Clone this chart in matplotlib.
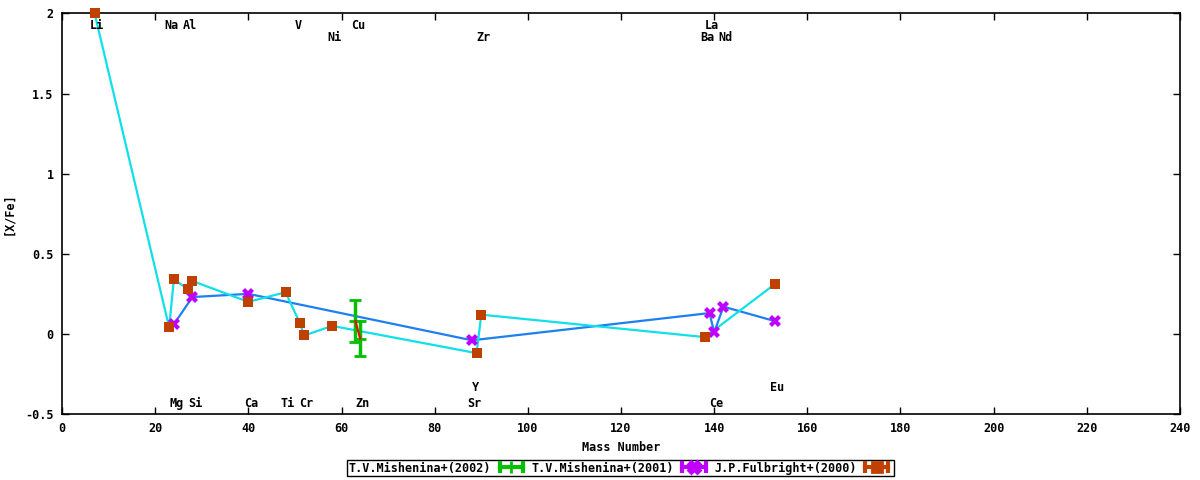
import matplotlib
matplotlib.use('Agg')
import matplotlib.pyplot as plt
from matplotlib.lines import Line2D
from matplotlib.legend_handler import HandlerLine2D, HandlerTuple

# ---------------------------------------------------------------- data
mish02_mass = [63, 64]
mish02_xfe = [0.08, -0.03]
mish02_err = [0.13, 0.11]

mish01_mass = [24, 28, 40, 88, 139, 140, 142, 153]
mish01_xfe = [0.06, 0.23, 0.25, -0.04, 0.13, 0.01, 0.17, 0.08]

fulb_mass = [7, 23, 24, 27, 28, 40, 48, 51, 52, 58, 89, 90, 138, 153]
fulb_xfe = [2.00, 0.04, 0.34, 0.28, 0.33, 0.20, 0.26, 0.07, -0.01, 0.05,
            -0.12, 0.12, -0.02, 0.31]

# element labels: name, mass number, row
top1 = [('Li', 7), ('Na', 23), ('Al', 27), ('V', 51), ('Cu', 63), ('La', 139)]
top2 = [('Ni', 58), ('Zr', 90), ('Ba', 138), ('Nd', 142)]
bot1 = [('Y', 89), ('Eu', 153)]
bot2 = [('Mg', 24), ('Si', 28), ('Ca', 40), ('Ti', 48), ('Cr', 52),
        ('Zn', 64), ('Sr', 88), ('Ce', 140)]

x_ticks = list(range(0, 241, 20))
y_ticks = [-0.5, 0, 0.5, 1, 1.5, 2]
y_tick_labels = ['-0.5', '0', '0.5', '1', '1.5', '2']

# ---------------------------------------------------------------- style
FONT = {'family': 'DejaVu Sans Mono', 'weight': 'bold', 'size': 8.5}
c_green = '#00C000'
c_red = '#FF0000'
c_purple = '#BF00FF'
c_blue = '#1E7FF0'
c_orange = '#C04000'
c_cyan = '#10E0E8'

fig = plt.figure(figsize=(12, 4.8), dpi=100)
ax = fig.add_axes([0.0517, 0.1375, 0.9316, 0.8344])

# T.V.Mishenina+(2002)
ax.plot(mish02_mass, mish02_xfe, color=c_red, lw=1.5, zorder=4)
ax.errorbar(mish02_mass, mish02_xfe, yerr=mish02_err, fmt='+', color=c_green,
            ms=9, mew=2, elinewidth=2.5, capsize=4, capthick=2.5, zorder=3)

# T.V.Mishenina+(2001)
ax.plot(mish01_mass, mish01_xfe, color=c_blue, lw=1.6, zorder=2)
ax.plot(mish01_mass, mish01_xfe, ls='none', marker='X', ms=8.5, mew=0,
        color=c_purple, zorder=5)

# J.P.Fulbright+(2000)
ax.plot(fulb_mass, fulb_xfe, color=c_cyan, lw=1.6, zorder=2)
ax.plot(fulb_mass, fulb_xfe, ls='none', marker='s', ms=7.5, mew=0,
        color=c_orange, zorder=6, clip_on=False)

# ---------------------------------------------------------------- labels
for row, yy in ((top1, 1.925), (top2, 1.85), (bot1, -0.334), (bot2, -0.434)):
    for name, m in row:
        ax.text(m - 1, yy, name, ha='left', va='center', fontdict=FONT, zorder=7)

ax.set_xlim(0, 240)
ax.set_ylim(-0.5, 2)
ax.set_xticks(x_ticks)
ax.set_xticklabels([str(t) for t in x_ticks], fontdict=FONT)
ax.set_yticks(y_ticks)
ax.set_yticklabels(y_tick_labels, fontdict=FONT)
ax.tick_params(direction='in', length=5, width=1, top=True, right=True, pad=6)
for s in ax.spines.values():
    s.set_linewidth(1.2)
ax.set_xlabel('Mass Number', fontdict=FONT, labelpad=4)
ax.set_ylabel('[X/Fe]', fontdict=FONT, labelpad=7)


# ---------------------------------------------------------------- key
def key_handle(color, marker, ms):
    bar = Line2D([], [], color=color, lw=3, marker='|', ms=8, mew=3)
    pt = Line2D([], [], color=color, ls='none', marker=marker, ms=ms, mew=2)
    return (bar, pt)


h02 = key_handle(c_green, '+', 8)
h01 = key_handle(c_purple, 'X', 8)
hfb = key_handle(c_orange, 's', 7)
hmap = {tuple: HandlerTuple(ndivide=1)}
for h in (h02, h01, hfb):
    hmap[h[1]] = HandlerLine2D(numpoints=1)

leg = fig.legend([h02, h01, hfb],
                 ['T.V.Mishenina+(2002)', 'T.V.Mishenina+(2001)', 'J.P.Fulbright+(2000)'],
                 handler_map=hmap, numpoints=2, markerfirst=False, ncol=3,
                 loc='center', bbox_to_anchor=(0.517, 0.025),
                 prop={'family': 'DejaVu Sans Mono', 'weight': 'bold', 'size': 8.5},
                 frameon=True, fancybox=False, edgecolor='black', framealpha=1,
                 borderpad=0.15, handlelength=2.6, handletextpad=0.4,
                 columnspacing=0.4, borderaxespad=0)
leg.get_frame().set_linewidth(1)

fig.savefig('out.png', dpi=100)
